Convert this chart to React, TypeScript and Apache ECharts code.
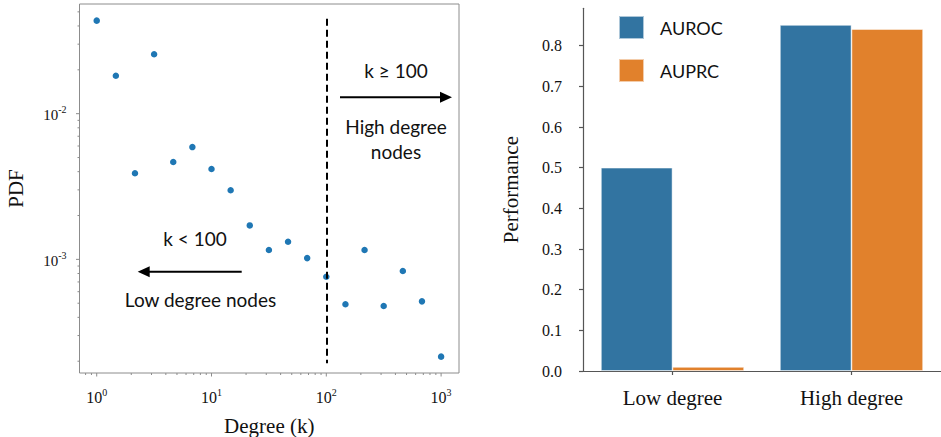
import React, { useEffect, useRef } from "react";
import * as echarts from "echarts";

// ---- Left panel data (degree distribution, log-log) ----
const degreeK = [1, 1.468, 2.154, 3.162, 4.642, 6.813, 10, 14.68, 21.54, 31.62, 46.42, 68.13, 100, 146.8, 215.4, 316.2, 464.2, 681.3, 1000];
const pdfValues = [0.0435, 0.0182, 0.0039, 0.0256, 0.00466, 0.0059, 0.00417, 0.00298, 0.00171, 0.00116, 0.00132, 0.00102, 0.00076, 0.000492, 0.00116, 0.000479, 0.000832, 0.000515, 0.000215];
const xMin = 0.708;
const xMax = 1432;
const yMin = 0.000166;
const yMax = 0.0566;
const xMajorTicks = [1, 10, 100, 1000];
const xMinorTicks = [0.8, 0.9, 2, 3, 4, 5, 6, 7, 8, 9, 20, 30, 40, 50, 60, 70, 80, 90, 200, 300, 400, 500, 600, 700, 800, 900];
const yMajorTicks = [0.001, 0.01];
const yMinorTicks = [0.0002, 0.0003, 0.0004, 0.0005, 0.0006, 0.0007, 0.0008, 0.0009, 0.002, 0.003, 0.004, 0.005, 0.006, 0.007, 0.008, 0.009, 0.02, 0.03, 0.04, 0.05];
const cutoffK = 100;
const cutoffTop = 0.0449;
const cutoffBottom = 0.000194;

// ---- Right panel data (performance bars) ----
const groups = ["Low degree", "High degree"];
const aurocValues = [0.5, 0.851];
const auprcValues = [0.01, 0.841];
const perfTicks = [0, 0.1, 0.2, 0.3, 0.4, 0.5, 0.6, 0.7, 0.8];
const perfMax = 0.892;

const SERIF = "'Liberation Serif', 'DejaVu Serif', serif";
const SANS = "Lato, 'Open Sans', sans-serif";
const AXIS_GREY = "#8c8c8c";

export default function App() {
  const ref = useRef<HTMLDivElement>(null);

  useEffect(() => {
    if (!ref.current) return;
    const chart = echarts.init(ref.current, undefined, { renderer: "svg" });

    const logFormatter = (v: number) => {
      const l = Math.log10(v);
      const e = Math.round(l);
      if (Math.abs(l - e) > 1e-6) return "";
      return `{b|10}{s|${e}}`;
    };
    const makeRich = (size: number) => ({
      b: { fontFamily: SERIF, fontSize: size, color: "#111", lineHeight: 18, verticalAlign: "bottom" },
      s: { fontFamily: SERIF, fontSize: 10, color: "#111", lineHeight: 11, verticalAlign: "top" },
    });

    const xTickRender = (params: any, api: any) => {
      const p = api.coord([api.value(0), api.value(1)]);
      const len = api.value(2);
      return {
        type: "line",
        shape: { x1: p[0], y1: p[1], x2: p[0], y2: p[1] + len },
        style: { stroke: AXIS_GREY, lineWidth: 1 },
      };
    };
    const yTickRender = (params: any, api: any) => {
      const p = api.coord([api.value(0), api.value(1)]);
      const len = api.value(2);
      return {
        type: "line",
        shape: { x1: p[0], y1: p[1], x2: p[0] - len, y2: p[1] },
        style: { stroke: AXIS_GREY, lineWidth: 1 },
      };
    };

    const textStyle = (text: string) => ({
      text,
      fontFamily: SANS,
      fontSize: 19,
      fill: "#111",
      align: "center",
      verticalAlign: "middle",
    });

    const option: any = {
      animation: false,
      backgroundColor: "#ffffff",
      grid: [
        { left: 79.5, top: 4, width: 379.5, height: 369, show: true, borderColor: AXIS_GREY, borderWidth: 1, backgroundColor: "transparent", outerBoundsMode: "none", containLabel: false },
        { left: 583, top: 8.3, width: 358, height: 362.7, outerBoundsMode: "none", containLabel: false },
      ],
      xAxis: [
        {
          type: "log",
          gridIndex: 0,
          min: xMin,
          max: xMax,
          logBase: 10,
          name: "Degree (k)",
          nameLocation: "middle",
          nameGap: 42,
          nameTextStyle: { fontFamily: SERIF, fontSize: 21, color: "#111" },
          axisLine: { show: false },
          axisTick: { show: false },
          splitLine: { show: false },
          minorTick: { show: false },
          axisLabel: { margin: 14, formatter: logFormatter, rich: makeRich(16), showMinLabel: false, showMaxLabel: false },
        },
        {
          type: "category",
          gridIndex: 1,
          data: groups,
          axisLine: { show: true, lineStyle: { color: "#555", width: 1.2 } },
          axisTick: { show: true, alignWithLabel: true, length: 4, lineStyle: { color: "#555", width: 1.2 } },
          axisLabel: { margin: 16, fontFamily: SERIF, fontSize: 21, color: "#111" },
          splitLine: { show: false },
        },
      ],
      yAxis: [
        {
          type: "log",
          gridIndex: 0,
          min: yMin,
          max: yMax,
          logBase: 10,
          name: "PDF",
          nameLocation: "middle",
          nameGap: 53,
          nameRotate: 90,
          nameTextStyle: { fontFamily: SERIF, fontSize: 21, color: "#111" },
          axisLine: { show: false },
          axisTick: { show: false },
          splitLine: { show: false },
          minorTick: { show: false },
          axisLabel: { margin: 13, formatter: logFormatter, rich: makeRich(15), showMinLabel: false, showMaxLabel: false },
        },
        {
          type: "value",
          gridIndex: 1,
          min: 0,
          max: perfMax,
          name: "Performance",
          nameLocation: "middle",
          nameGap: 62,
          nameRotate: 90,
          nameTextStyle: { fontFamily: SERIF, fontSize: 21, color: "#111" },
          axisLine: { show: true, lineStyle: { color: "#555", width: 1.2 } },
          axisTick: { show: true, length: 4, customValues: perfTicks, lineStyle: { color: "#555", width: 1.2 } },
          axisLabel: {
            margin: 21,
            customValues: perfTicks,
            fontFamily: SERIF,
            fontSize: 16,
            color: "#111",
            formatter: (v: number) => v.toFixed(1),
          },
          splitLine: { show: false },
        },
      ],
      legend: {
        data: ["AUROC", "AUPRC"],
        orient: "vertical",
        left: 613,
        top: 10,
        icon: "rect",
        itemWidth: 25,
        itemHeight: 23,
        itemGap: 18,
        textStyle: { fontFamily: SANS, fontSize: 18, color: "#111", padding: [0, 0, 0, 11] },
        selectedMode: false,
      },
      series: [
        {
          type: "scatter",
          name: "PDF",
          xAxisIndex: 0,
          yAxisIndex: 0,
          data: degreeK.map((k, i) => [k, pdfValues[i]]),
          symbolSize: 6.5,
          itemStyle: { color: "#1f77b4", opacity: 1 },
          markLine: {
            silent: true,
            symbol: "none",
            label: { show: false },
            lineStyle: { color: "#000", type: [7, 4], width: 2 },
            data: [[{ coord: [cutoffK, cutoffTop] }, { coord: [cutoffK, cutoffBottom] }]],
          },
        },
        {
          type: "custom",
          name: "xMajor",
          xAxisIndex: 0,
          yAxisIndex: 0,
          silent: true,
          data: xMajorTicks.map((v) => [v, yMin, 3.5]),
          renderItem: xTickRender,
        },
        {
          type: "custom",
          name: "xMinor",
          xAxisIndex: 0,
          yAxisIndex: 0,
          silent: true,
          data: xMinorTicks.map((v) => [v, yMin, 2]),
          renderItem: xTickRender,
        },
        {
          type: "custom",
          name: "yMajor",
          xAxisIndex: 0,
          yAxisIndex: 0,
          silent: true,
          data: yMajorTicks.map((v) => [xMin, v, 3.5]),
          renderItem: yTickRender,
        },
        {
          type: "custom",
          name: "yMinor",
          xAxisIndex: 0,
          yAxisIndex: 0,
          silent: true,
          data: yMinorTicks.map((v) => [xMin, v, 2]),
          renderItem: yTickRender,
        },
        {
          type: "bar",
          name: "AUROC",
          xAxisIndex: 1,
          yAxisIndex: 1,
          data: aurocValues,
          barGap: "0%",
          barCategoryGap: "20%",
          itemStyle: { color: "#3274a1", borderColor: "rgba(255,255,255,0.6)", borderWidth: 0.8 },
        },
        {
          type: "bar",
          name: "AUPRC",
          xAxisIndex: 1,
          yAxisIndex: 1,
          data: auprcValues,
          barGap: "0%",
          barCategoryGap: "20%",
          itemStyle: { color: "#e1812c", borderColor: "rgba(255,255,255,0.6)", borderWidth: 0.8 },
        },
      ],
      graphic: [
        { type: "text", x: 396, y: 70, style: textStyle("k \u2265 100") },
        { type: "line", shape: { x1: 340, y1: 97.3, x2: 442, y2: 97.3 }, style: { stroke: "#000", lineWidth: 2 } },
        { type: "polygon", shape: { points: [[440, 91.8], [452, 97.3], [440, 102.8]] }, style: { fill: "#000" } },
        { type: "text", x: 396, y: 126, style: textStyle("High degree") },
        { type: "text", x: 396, y: 151, style: textStyle("nodes") },
        { type: "text", x: 195, y: 238, style: textStyle("k < 100") },
        { type: "line", shape: { x1: 147, y1: 271.7, x2: 241.7, y2: 271.7 }, style: { stroke: "#000", lineWidth: 2 } },
        { type: "polygon", shape: { points: [[149.7, 266.2], [137.7, 271.7], [149.7, 277.2]] }, style: { fill: "#000" } },
        { type: "text", x: 200.5, y: 299, style: textStyle("Low degree nodes") },
      ],
    };

    chart.setOption(option);
    return () => chart.dispose();
  }, []);

  return <div ref={ref} style={{ position: "fixed", left: 0, top: 0, width: 941, height: 437 }} />;
}
